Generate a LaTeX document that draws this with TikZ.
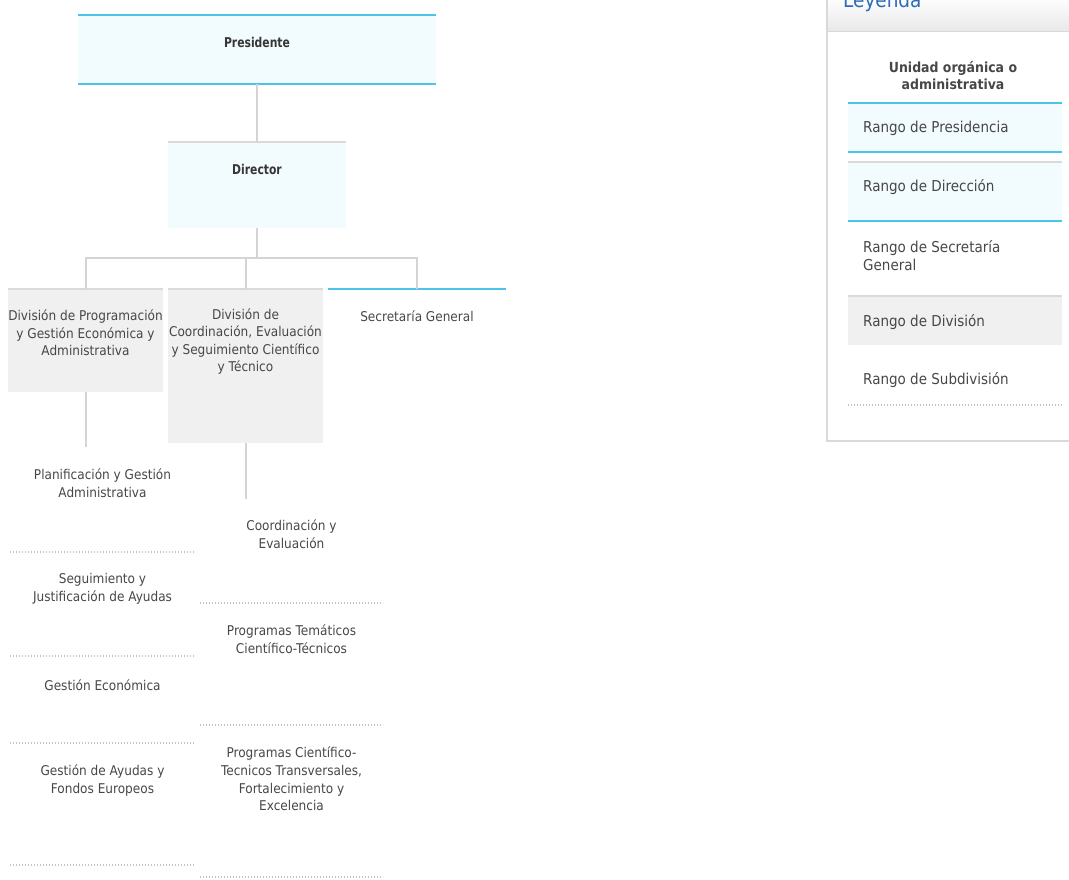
\documentclass[tikz,border=0pt]{standalone}
\usepackage{fontspec}
\setmainfont{DejaVu Sans}
\newfontfamily\chartfont{DejaVu Sans}[FakeStretch=0.9]
\newfontfamily\headfont{DejaVu Sans}[FakeStretch=0.8]
\usetikzlibrary{calc}
\definecolor{cyanline}{HTML}{4CC3EA}
\definecolor{cyanfill}{HTML}{F2FBFE}
\definecolor{grayfill}{HTML}{F0F0F0}
\definecolor{grayline}{HTML}{D4D4D4}
\definecolor{boxtop}{HTML}{DADADA}
\definecolor{txt}{HTML}{474747}
\definecolor{dark}{HTML}{363636}
\definecolor{dotc}{HTML}{C4C4C4}
\definecolor{legblue}{HTML}{2B6CB8}
\definecolor{legborder}{HTML}{D9D9D9}
\begin{document}
\begin{tikzpicture}[x=1pt,y=-1pt,
  chart/.style={font=\chartfont\fontsize{13.45}{17.6}\selectfont, text=txt, align=center, inner sep=0pt},
  head/.style={font=\headfont\fontsize{13.5}{16}\bfseries\selectfont, text=dark, inner sep=0pt},
  legtxt/.style={font=\chartfont\fontsize{15}{18}\selectfont, text=txt, align=left, inner sep=0pt, anchor=west},
  legbold/.style={font=\chartfont\fontsize{13.9}{17.7}\bfseries\selectfont, text=txt, align=center, inner sep=0pt},
  area/.style={rectangle, inner sep=0pt, draw=none},
  conn/.style={draw=grayline, line width=2pt},
  blueline/.style={draw=cyanline, line width=1.6pt},
  topline/.style={draw=boxtop, line width=1.6pt},
  dotline/.style={draw=dotc, line width=1.2pt, dash pattern=on 1.2pt off 1.8pt}
]
\useasboundingbox (0,0) rectangle (1069,879);

% ---------------- boxes ----------------
\node[area, fill=cyanfill, minimum width=358pt, minimum height=69pt] (pres) at (257,49.5) {};
\draw[blueline] (pres.north west) -- (pres.north east);
\draw[blueline] (pres.south west) -- (pres.south east);
\node[head] (presT) at (257,42) {Presidente};

\node[area, fill=cyanfill, minimum width=178pt, minimum height=86pt] (dir) at (257,185) {};
\draw[topline] (dir.north west) -- (dir.north east);
\node[head] (dirT) at (257,169) {Director};

\node[area, fill=grayfill, minimum width=155pt, minimum height=103pt] (div1) at (85.5,340.5) {};
\draw[topline] (div1.north west) -- (div1.north east);
\node[chart] (div1T) at (85.5,333) {División de Programación\\y Gestión Económica y\\Administrativa};

\node[area, fill=grayfill, minimum width=155pt, minimum height=154pt] (div2) at (245.5,366) {};
\draw[topline] (div2.north west) -- (div2.north east);
\node[chart] (div2T) at (245.5,341.5) {División de\\Coordinación, Evaluación\\y Seguimiento Científico\\y Técnico};

\node[area, minimum width=178pt, minimum height=50pt] (sec) at (417,314) {};
\draw[blueline] (sec.north west) -- (sec.north east);
\node[chart] (secT) at (417,316.5) {Secretaría General};

% ---------------- connectors ----------------
\coordinate (hub) at (257,258);
\coordinate (sub1) at (85.5,447);
\coordinate (sub2) at (245.5,499);
\draw[conn] (pres.south) -- (dir.north);
\draw[conn] (dir.south) -- (hub);
\draw[conn] (hub) -| (div1.north);
\draw[conn] (hub) -| (div2.north);
\draw[conn] (hub) -| (sec.north);
\draw[conn] (div1.south) -- (sub1);
\draw[conn] (div2.south) -- (sub2);

% ---------------- subdivisions left ----------------
\node[chart] (s11) at (102.5,483) {Planificación y Gestión\\Administrativa};
\node[chart] (s12) at (102.5,588.5) {Seguimiento y\\Justificación de Ayudas};
\node[chart] (s13) at (102.5,685) {Gestión Económica};
\node[chart] (s14) at (102.5,780.5) {Gestión de Ayudas y\\Fondos Europeos};
\foreach \yy in {552,656,743,865} {
  \draw[dotline] (10,\yy) -- (195,\yy);
}

% ---------------- subdivisions right ----------------
\node[chart] (s21) at (291.5,534) {Coordinación y\\Evaluación};
\node[chart] (s22) at (291.5,639) {Programas Temáticos\\Científico-Técnicos};
\node[chart] (s23) at (291.5,779) {Programas Científico-\\Tecnicos Transversales,\\Fortalecimiento y\\Excelencia};
\foreach \yy in {603,725,877} {
  \draw[dotline] (200,\yy) -- (383,\yy);
}

% ---------------- legend ----------------
\node[area, minimum width=250pt, minimum height=445pt] (leg) at (952,219) {};
\shade[top color=white, bottom color=black!9] (827,-4) rectangle (1077,31.5);
\draw[draw=legborder, line width=1.2pt] (827,-4) rectangle (1077,441);
\draw[draw=legborder, line width=1.2pt] (827,31.5) -- (1077,31.5);
\node[font=\chartfont\fontsize{20.5}{22}\selectfont, text=legblue, inner sep=0pt, anchor=base west] (legT) at (843,7) {Leyenda};

\node[legbold] (legU) at (953,75.5) {Unidad orgánica o\\administrativa};

\node[area, fill=cyanfill, minimum width=214pt, minimum height=49pt] (lp) at (955,127.5) {};
\draw[blueline] (lp.north west) -- (lp.north east);
\draw[blueline] (lp.south west) -- (lp.south east);
\node[legtxt] (lpT) at (863,128) {Rango de Presidencia};

\node[area, fill=cyanfill, minimum width=214pt, minimum height=59pt] (ld) at (955,191.5) {};
\draw[topline] (ld.north west) -- (ld.north east);
\node[legtxt] (ldT) at (863,187) {Rango de Dirección};

\node[area, minimum width=214pt, minimum height=70pt] (ls) at (955,256) {};
\draw[blueline] (ls.north west) -- (ls.north east);
\node[legtxt] (lsT) at (863,256) {Rango de Secretaría\\General};

\node[area, fill=grayfill, minimum width=214pt, minimum height=49pt] (lv) at (955,320.5) {};
\draw[topline] (lv.north west) -- (lv.north east);
\node[legtxt] (lvT) at (863,322) {Rango de División};

\node[legtxt] (lsubT) at (863,380) {Rango de Subdivisión};
\coordinate (lsubL) at (848,405);
\coordinate (lsubR) at (1062,405);
\draw[dotline] (lsubL) -- (lsubR);
\end{tikzpicture}
\end{document}
